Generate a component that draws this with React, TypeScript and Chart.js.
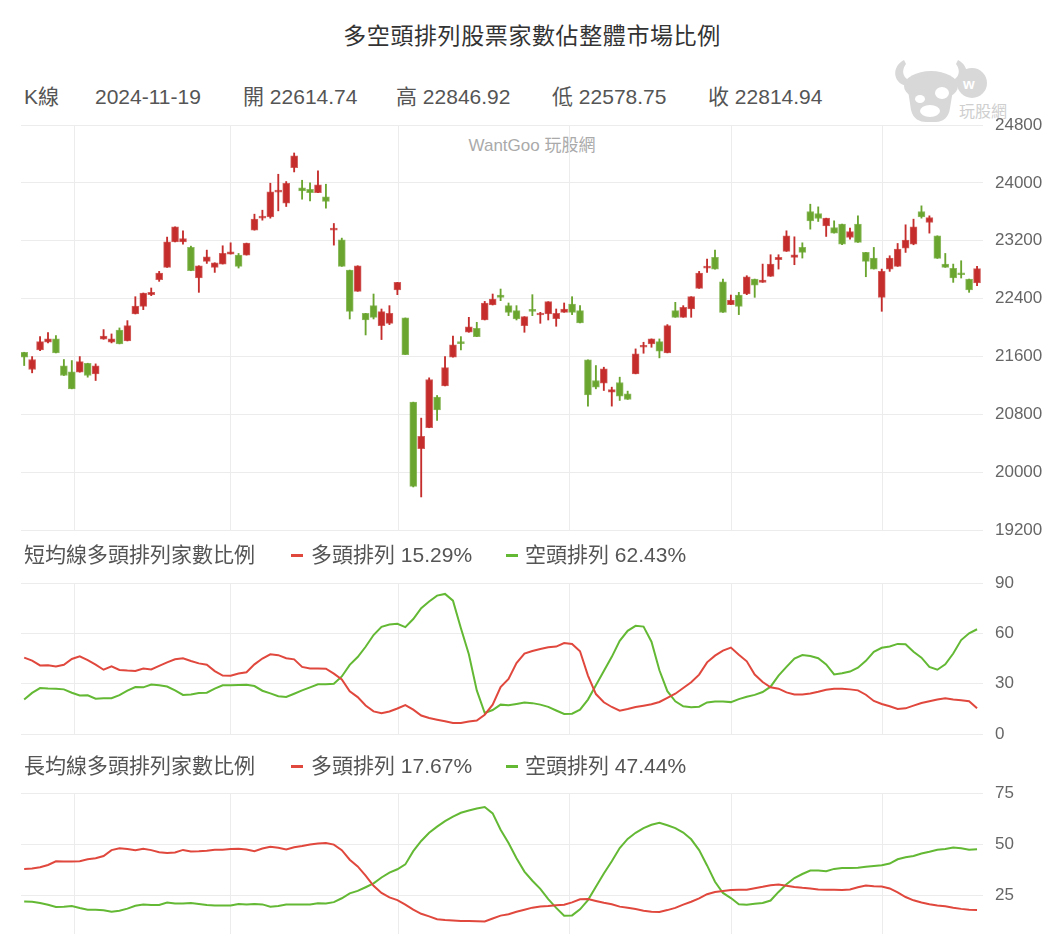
import React, { useEffect, useRef } from "react";
import { Chart, registerables } from "chart.js";

Chart.register(...registerables);

// ---------- data ----------
const lastDate = "2024-11-19";

const openP = [
  21658, 21419, 21690, 21796, 21842, 21469, 21387, 21382, 21506, 21359,
  21837, 21796, 21966, 21814, 22187, 22293, 22454, 22661, 22831, 23185,
  23185, 23107, 22684, 22914, 22831, 22877, 23015, 23001, 23001, 23346,
  23512, 23530, 23871, 23719, 24211, 23930, 23912, 23866, 23806, 23346,
  23213, 22794, 22500, 22196, 22302, 22026, 22058, 22518, 22132, 20968,
  20324, 20614, 21037, 21193, 21589, 21805, 21934, 21989, 22104, 22311,
  22449, 22302, 22233, 22026, 22242, 22173, 22187, 22123, 22210, 22325,
  22233, 21552, 21267, 21230, 21106, 21239, 21083, 21359, 21727, 21773,
  21805, 21649, 22233, 22141, 22256, 22541, 22822, 22969, 22633, 22316,
  22449, 22463, 22670, 22624, 22707, 22937, 23052, 22969, 23107, 23604,
  23576, 23406, 23383, 23429, 23245, 23429, 23038, 22960, 22417, 22808,
  22845, 23098, 23153, 23604, 23452, 23268, 22877, 22817, 22757, 22670,
  22614.74,
];
const highP = [
  21658, 21598, 21874, 21929, 21888, 21557, 21543, 21598, 21506, 21497,
  21971, 21911, 21994, 22095, 22426, 22477, 22546, 22776, 23250, 23392,
  23337, 23125, 22854, 23070, 22895, 23130, 23171, 23024, 23167, 23567,
  23622, 23995, 24119, 24018, 24413, 24036, 23999, 24165, 23981, 23438,
  23236, 22794, 22854, 22196, 22463, 22256, 22302, 22624, 22132, 20968,
  20747, 21304, 21060, 21598, 21883, 21874, 22141, 22072, 22361, 22463,
  22532, 22339, 22302, 22150, 22454, 22210, 22357, 22256, 22339, 22426,
  22302, 21552, 21474, 21451, 21175, 21313, 21120, 21704, 21796, 21842,
  21842, 22040, 22348, 22302, 22426, 22776, 22946, 23070, 22670, 22449,
  22486, 22716, 22670, 22877, 23006, 23006, 23337, 23254, 23171, 23705,
  23668, 23512, 23475, 23429, 23374, 23544, 23038, 23107, 22808, 22992,
  23162, 23420, 23498, 23682, 23544, 23268, 23024, 22877, 22923, 22670,
  22846.92,
];
const lowP = [
  21474, 21373, 21681, 21787, 21649, 21336, 21152, 21382, 21313, 21267,
  21837, 21787, 21773, 21814, 22187, 22247, 22440, 22638, 22831, 23185,
  23153, 22785, 22486, 22886, 22762, 22877, 23015, 22822, 23001, 23346,
  23484, 23512, 23613, 23673, 24151, 23774, 23751, 23866, 23650, 23139,
  22845, 22118, 22500, 21897, 22118, 21833, 22040, 22454, 21626, 19795,
  19657, 20614, 20715, 21193, 21589, 21690, 21934, 21874, 22104, 22311,
  22371, 22164, 22104, 21934, 22164, 22058, 22104, 22017, 22210, 22178,
  22063, 20913, 21152, 21129, 20913, 20991, 21005, 21359, 21644, 21727,
  21580, 21649, 22141, 22141, 22141, 22541, 22762, 22808, 22210, 22316,
  22178, 22454, 22417, 22624, 22707, 22808, 23052, 22868, 22960, 23360,
  23466, 23259, 23305, 23144, 23222, 23176, 22702, 22808, 22224, 22776,
  22845, 23038, 23144, 23512, 23305, 22955, 22831, 22624, 22684, 22486,
  22578.75,
];
const closeP = [
  21589, 21557, 21805, 21842, 21649, 21336, 21152, 21529, 21336, 21469,
  21883, 21842, 21773, 22026, 22297, 22477, 22486, 22753, 23185, 23392,
  23231, 22785, 22854, 22978, 22895, 23024, 23047, 22845, 23167, 23498,
  23535, 23875, 23889, 23995, 24372, 23889, 23866, 23972, 23742, 23374,
  22845, 22224, 22854, 22104, 22141, 22219, 22196, 22624, 21626, 19804,
  20494, 21281, 20862, 21446, 21759, 21778, 22008, 21874, 22339, 22394,
  22417, 22210, 22118, 22150, 22224, 22192, 22357, 22196, 22256, 22210,
  22063, 21069, 21175, 21428, 21143, 21051, 21005, 21635, 21750, 21842,
  21672, 22026, 22141, 22279, 22426, 22753, 22849, 22808, 22210, 22380,
  22293, 22702, 22587, 22656, 22877, 22969, 23268, 23006, 23038, 23475,
  23507, 23512, 23305, 23153, 23328, 23176, 22914, 22808, 22776, 22960,
  23084, 23208, 23392, 23530, 23521, 22955, 22831, 22684, 22730, 22518,
  22814.94,
];

const shortBull = [
  45.5, 43.7, 40.9, 41, 40.2, 41.3, 44.7, 46.3, 44, 41.4,
  38.3, 40.3, 38.2, 37.8, 37.6, 39, 38.5, 40.6, 42.7, 44.5,
  45.1, 43.5, 42.1, 41.3, 37.5, 34.8, 34.7, 36, 36.8, 41.5,
  45, 47.5, 47, 45.2, 44.5, 40, 39.1, 39.1, 38.9, 36,
  32.5, 25.5, 22, 17, 13.5, 12.4, 13.4, 15.2, 17.2, 14.5,
  11, 9.5, 8.5, 7.6, 6.5, 6.5, 7.4, 8, 11.5, 17.5,
  28, 32.8, 42.3, 47.9, 49.5, 50.7, 51.7, 52.1, 54.2, 53.7,
  49.3, 34.8, 23.8, 18.9, 16.1, 13.9, 14.9, 16.1, 16.9, 17.7,
  19.1, 21.5, 24, 27.4, 30.8, 35.4, 42.7, 46.7, 49.7, 51.5,
  47.3, 43.3, 35.4, 31, 27.8, 27, 24.8, 23.6, 23.6, 24.2,
  25.2, 26.4, 27, 27, 26.6, 26, 23.4, 19.7, 17.9, 16.5,
  14.9, 15.3, 16.9, 18.5, 19.5, 20.5, 21.3, 20.5, 20.1, 19.5,
  15.29,
];
const shortBear = [
  20.5, 24.5, 27.4, 27.1, 27, 26.6, 24.6, 23, 23.1, 21,
  21.3, 21.3, 23.2, 25.8, 28, 27.8, 29.5, 29, 28.3, 26,
  23.3, 23.6, 24.4, 24.6, 27, 29, 29, 29.2, 29.3, 28.6,
  25.8, 24.2, 22.5, 22.1, 24, 26, 27.8, 29.6, 29.6, 30,
  34.3, 41.2, 45.9, 52, 59, 63.9, 65.3, 65.7, 63.7, 68.5,
  75, 79, 82.5, 83.5, 79.5, 63, 47.5, 26, 12.5, 14.3,
  17.5, 17.1, 17.9, 18.8, 18.4, 17.5, 16.2, 14, 11.9, 12.1,
  14.5, 20.5, 29, 37.5, 46, 55.5, 61.5, 64.5, 64, 55,
  38, 25.5, 19.5, 16.5, 16, 16.3, 18.8, 19.3, 19.3, 19,
  20.8, 22.2, 23.3, 25, 28.2, 34.8, 40, 45, 47.1, 46.5,
  45.2, 41.5, 35.5, 36.2, 37.2, 39.5, 43.6, 49, 51.4, 52.2,
  53.7, 53.5, 49, 45.5, 40, 38.3, 41.5, 48, 56, 60,
  62.43,
];
const longBull = [
  37.8, 38, 38.6, 39.7, 41.5, 41.4, 41.4, 41.5, 42.5, 43,
  44.1, 47, 47.9, 47.5, 47, 47.7, 47, 46, 45.6, 45.8,
  47.1, 46.3, 46.4, 46.7, 47.2, 47.2, 47.5, 47.7, 47.3, 46.5,
  47.8, 48.6, 48.2, 47.3, 48.4, 49, 49.8, 50.2, 50.5, 49.7,
  47, 42.3, 39, 34.5, 29.5, 26, 23.8, 22.5, 20.3, 17.8,
  15.8, 14.5, 13.1, 12.7, 12.5, 12.3, 12.2, 12.1, 12, 13.5,
  14.9, 15.6, 16.8, 17.8, 18.8, 19.4, 19.6, 20, 20.2, 21.4,
  22.9, 23, 22.1, 21.2, 20.5, 19.3, 18.7, 18.1, 17.3, 16.8,
  16.7, 17.6, 18.7, 20.3, 21.7, 23.3, 25.4, 26.5, 27, 27.4,
  27.6, 27.6, 28.3, 29, 29.8, 30.2, 29.5, 28.9, 28.5, 28.2,
  27.7, 27.6, 27.6, 27.4, 27.7, 28.8, 29.7, 29.3, 29.2, 28.2,
  26.3, 24, 22.4, 21.3, 20.5, 19.9, 19.5, 18.8, 18.2, 17.8,
  17.67,
];
const longBear = [
  21.8, 21.7, 21.1, 20.2, 19.1, 19.2, 19.6, 18.6, 17.8, 17.8,
  17.5, 16.8, 17.3, 18.3, 19.7, 20.3, 20.1, 20.1, 21.3, 20.8,
  20.8, 21.1, 20.6, 20.1, 19.8, 19.9, 19.9, 20.6, 20.4, 20.6,
  20.4, 19.3, 19.6, 20.3, 20.4, 20.4, 20.4, 20.9, 20.8, 21.5,
  23.4, 25.8, 27, 28.8, 30.7, 33.6, 36, 37.6, 40, 46.5,
  51.5, 55.5, 58.5, 61.2, 63.4, 65.3, 66.4, 67.4, 68.1, 65,
  57, 50.5, 43, 36.5, 32, 28, 23, 18.7, 14.8, 15,
  18, 22.5, 29, 35.5, 41.5, 48, 52.5, 55.5, 57.8, 59.4,
  60.4, 59.2, 57.8, 55.6, 52.3, 47, 39.5, 31.5, 26, 23.5,
  20.5, 20.2, 20.7, 21.1, 22.3, 26.5, 30.3, 33.3, 35.3, 37,
  37, 36.7, 37.8, 38.2, 38.2, 38.4, 38.8, 39.2, 39.6, 40.4,
  42.5, 43.5, 44.1, 45.3, 46.2, 47.2, 47.5, 48.3, 47.9, 47.2,
  47.44,
];

// month boundaries (in candle-index units) where vertical grid lines sit
const monthGridAt = [6.31, 25.98, 47.08, 68.64, 89.06, 108.15];

const priceRange = [19200, 24800];
const priceStep = 800;
const shortRange = [0, 90];
const shortStep = 30;
const longRange = [0, 75];
const longStep = 25;

// ---------- styles ----------
const RED = "#c42d2b";
const GREEN = "#6aa52f";
const LINE_RED = "#e0473d";
const LINE_GREEN = "#63b834";
const GRID = "#ececec";
const TEXT_FONT = '"Liberation Sans", "Noto Sans CJK TC", Arial, sans-serif';
const TICK_FONT = '"Liberation Sans", Arial, sans-serif';

const W = 1054;

function xAxis() {
  return {
    type: "linear",
    min: -0.4,
    max: 120.75,
    offset: false,
    ticks: { display: false },
    grid: { color: GRID, drawTicks: false, lineWidth: 1, offset: false },
    border: { display: false },
    afterBuildTicks: (axis: any) => {
      axis.ticks = monthGridAt.map((v) => ({ value: v }));
    },
  };
}

function yAxis(range: number[], step: number) {
  return {
    position: "right",
    min: range[0],
    max: range[1],
    ticks: {
      stepSize: step,
      color: "#666",
      font: { family: TICK_FONT, size: 17 },
      padding: 12,
      callback: (v: any) => String(v),
    },
    grid: { color: GRID, drawTicks: false, lineWidth: 1 },
    border: { display: false },
    afterFit: (s: any) => {
      s.width = 71;
    },
  };
}

function baseOptions(padTop: number, padBottom: number, yRange: number[], yStep: number) {
  return {
    responsive: false,
    animation: false,
    events: [],
    layout: { padding: { left: 21, right: 0, top: padTop, bottom: padBottom } },
    plugins: { legend: { display: false }, tooltip: { enabled: false }, title: { display: false } },
    scales: { x: xAxis(), y: yAxis(yRange, yStep) },
  };
}

const fmtPct = (arr: number[]) => `${arr[arr.length - 1].toFixed(2)}%`;
const fmtNum = (arr: number[]) => arr[arr.length - 1].toFixed(2);

const abs = (left: number, top: number, extra: any = {}) => ({
  position: "absolute" as const,
  left,
  top,
  whiteSpace: "nowrap" as const,
  ...extra,
});

export default function App() {
  const topRef = useRef<HTMLCanvasElement>(null);
  const midRef = useRef<HTMLCanvasElement>(null);
  const botRef = useRef<HTMLCanvasElement>(null);

  useEffect(() => {
    const idx = openP.map((_, i) => i);
    const up = (i: number) => closeP[i] >= openP[i];
    const candleColor = (ctx: any) => (up(ctx.dataIndex) ? RED : GREEN);
    const candleBorder = (ctx: any) =>
      up(ctx.dataIndex) ? "rgba(196,45,43,0.75)" : "rgba(106,165,47,0.75)";

    const top = new Chart(topRef.current as HTMLCanvasElement, {
      type: "bar",
      data: {
        datasets: [
          {
            label: "body",
            data: idx.map((i) => ({ x: i, y: [openP[i], closeP[i]] })) as any,
            backgroundColor: candleColor,
            borderColor: candleBorder,
            borderWidth: 1,
            borderSkipped: false,
            barThickness: 7,
            minBarLength: 2,
            grouped: false,
            order: 0,
          } as any,
          {
            label: "wick",
            data: idx.map((i) => ({ x: i, y: [lowP[i], highP[i]] })) as any,
            backgroundColor: candleColor,
            borderWidth: 0,
            barThickness: 1.2,
            grouped: false,
            order: 1,
          } as any,
        ],
      },
      options: baseOptions(25, 23, priceRange, priceStep) as any,
    });

    const lineDs = (label: string, arr: number[], color: string) => ({
      label,
      data: arr.map((v, i) => ({ x: i, y: v })),
      borderColor: color,
      backgroundColor: color,
      borderWidth: 2,
      pointRadius: 0,
      tension: 0,
      fill: false,
    });

    const mid = new Chart(midRef.current as HTMLCanvasElement, {
      type: "line",
      data: {
        datasets: [
          lineDs("多頭排列", shortBull, LINE_RED) as any,
          lineDs("空頭排列", shortBear, LINE_GREEN) as any,
        ],
      },
      options: baseOptions(23, 23, shortRange, shortStep) as any,
    });

    const bot = new Chart(botRef.current as HTMLCanvasElement, {
      type: "line",
      data: {
        datasets: [
          lineDs("多頭排列", longBull, LINE_RED) as any,
          lineDs("空頭排列", longBear, LINE_GREEN) as any,
        ],
      },
      options: baseOptions(23, 23, longRange, longStep) as any,
    });

    return () => {
      top.destroy();
      mid.destroy();
      bot.destroy();
    };
  }, []);

  const infoStyle = { fontFamily: TEXT_FONT, fontSize: 21, lineHeight: "21px", color: "#555" };
  const legStyle = { fontFamily: TEXT_FONT, fontSize: 21, lineHeight: "21px", color: "#555" };
  const marker = (left: number, top: number, color: string) => (
    <div style={abs(left, top, { width: 12, height: 3, background: color })} />
  );

  return (
    <div
      style={{
        position: "absolute",
        left: 0,
        top: 0,
        width: W,
        height: 934,
        overflow: "hidden",
        background: "#fff",
      }}
    >
      {/* title */}
      <div
        style={abs(282, 25, {
          width: 500,
          textAlign: "center",
          fontFamily: TEXT_FONT,
          fontSize: 23,
          lineHeight: "23px",
          letterSpacing: "0.6px",
          color: "#333",
        })}
      >
        多空頭排列股票家數佔整體市場比例
      </div>

      {/* info row */}
      <div style={abs(24, 86, infoStyle)}>K線</div>
      <div style={abs(95, 86, infoStyle)}>{lastDate}</div>
      <div style={abs(243, 86, infoStyle)}>開 {fmtNum(openP)}</div>
      <div style={abs(396, 86, infoStyle)}>高 {fmtNum(highP)}</div>
      <div style={abs(552, 86, infoStyle)}>低 {fmtNum(lowP)}</div>
      <div style={abs(708, 86, infoStyle)}>收 {fmtNum(closeP)}</div>

      {/* logo */}
      <svg style={abs(890, 56)} width={130} height={68} viewBox="0 0 130 68">
        <g fill="#d8d8d8" stroke="none">
          <path d="M14 4 C2 10 2 26 16 30 L24 26 C14 24 10 16 16 8 Z" />
          <path d="M68 4 C80 10 80 26 66 30 L58 26 C68 24 72 16 66 8 Z" />
          <ellipse cx="41" cy="30" rx="27" ry="15" />
          <path d="M18 34 L21 54 C23 63 30 66 36 66 L46 66 C53 66 59 61 60 52 L63 34 Z" />
          <circle cx="82" cy="27" r="15" />
        </g>
        <g fill="#fff">
          <ellipse cx="30" cy="43" rx="5" ry="4" />
          <ellipse cx="52" cy="37" rx="7" ry="6" />
          <ellipse cx="40" cy="55" rx="10" ry="6" />
        </g>
        <text x="73" y="33" fill="#fff" fontSize="15" fontWeight="bold" fontFamily={TICK_FONT}>
          w
        </text>
        <text x="69" y="61" fill="#cfcfcf" fontSize="16" fontFamily={TEXT_FONT}>
          玩股網
        </text>
      </svg>

      {/* watermark */}
      <div
        style={abs(432, 137, {
          width: 200,
          textAlign: "center",
          fontFamily: TEXT_FONT,
          fontSize: 17,
          lineHeight: "18px",
          color: "#aaa",
        })}
      >
        WantGoo 玩股網
      </div>

      <canvas ref={topRef} width={W} height={453} style={abs(0, 100, { display: "block" })} />

      {/* short legend */}
      <div style={abs(24, 544, legStyle)}>短均線多頭排列家數比例</div>
      {marker(291, 554, LINE_RED)}
      <div style={abs(311, 544, legStyle)}>多頭排列 {fmtPct(shortBull)}</div>
      {marker(506, 554, LINE_GREEN)}
      <div style={abs(525, 544, legStyle)}>空頭排列 {fmtPct(shortBear)}</div>

      <canvas ref={midRef} width={W} height={197} style={abs(0, 560, { display: "block" })} />

      {/* long legend */}
      <div style={abs(24, 755, legStyle)}>長均線多頭排列家數比例</div>
      {marker(291, 765, LINE_RED)}
      <div style={abs(311, 755, legStyle)}>多頭排列 {fmtPct(longBull)}</div>
      {marker(506, 765, LINE_GREEN)}
      <div style={abs(525, 755, legStyle)}>空頭排列 {fmtPct(longBear)}</div>

      <canvas ref={botRef} width={W} height={199} style={abs(0, 770, { display: "block" })} />
    </div>
  );
}
